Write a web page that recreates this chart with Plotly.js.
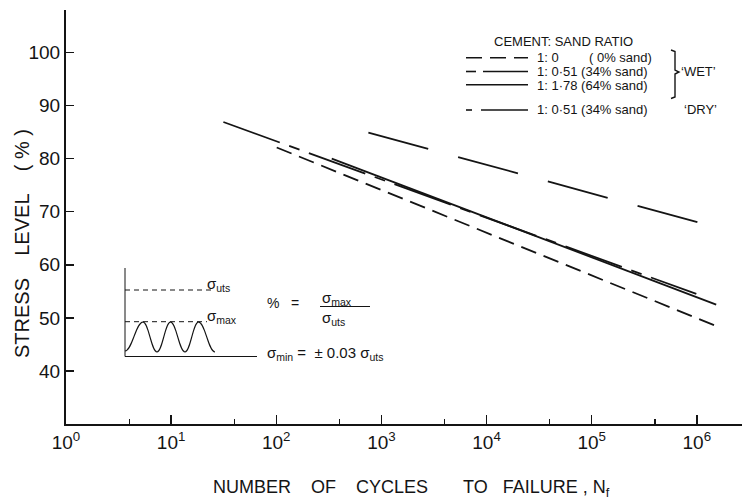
<!DOCTYPE html>
<html><head><meta charset="utf-8">
<script src="https://cdn.plot.ly/plotly-3.0.1.min.js"></script>
<style>html,body{margin:0;padding:0;background:#fff}#chart{width:742px;height:502px}</style>
</head><body><div id="chart"></div>
<script>
// ---- data ----
const nfWet0 = [101, 1.47e6];
const sWet0 = [82.1, 48.6];
const nfWet34 = [31.4, 0.99e6];
const sWet34 = [86.9, 54.5];
const nfWet64 = [337, 1.53e6];
const sWet64 = [80.0, 52.5];
const nfDry34 = [752, 1.02e6];
const sDry34 = [84.9, 68.0];

const xTickVals = [1, 10, 100, 1000, 1e4, 1e5, 1e6];
const xTickText = ['10<sup>0</sup>', '10<sup>1</sup>', '10<sup>2</sup>', '10<sup>3</sup>', '10<sup>4</sup>', '10<sup>5</sup>', '10<sup>6</sup>'];
const xMinorVals = [4, 40, 400, 4000, 4e4, 4e5];
const yTickVals = [40, 50, 60, 70, 80, 90, 100];

const legendTitle = 'CEMENT: SAND RATIO';
const legendRatios = ['1: 0', '1: 0·51 (34% sand)', '1: 1·78 (64% sand)', '1: 0·51 (34% sand)'];
const legendSand0 = '( 0% sand)';
const groupWet = '‘WET’';
const groupDry = '‘DRY’';

// ---- styling ----
const ink = '#141414';
const font = 'Liberation Sans, Arial, sans-serif';
const dashWet0 = '16px,8px';
const dashWet34 = '60px,10px,11px,10px';
const dashDry34 = '62px,31px';

// pixel -> paper helpers (plot area 66..742 x 10..424)
const L = 66, R = 742, T = 10, B = 424;
const px = x => (x - L) / (R - L);
const py = y => (B - y) / (B - T);
const P = (x, y) => px(x).toFixed(5) + ',' + py(y).toFixed(5);

function line(x0, y0, x1, y1, dash, w) {
  return {type: 'line', xref: 'paper', yref: 'paper', x0: px(x0), y0: py(y0), x1: px(x1), y1: py(y1),
    line: {color: ink, width: w || 1.6, dash: dash || 'solid'}};
}
function ann(text, x, y, size, xanchor, extra) {
  return Object.assign({text: text, xref: 'paper', yref: 'paper', x: px(x), y: py(y), showarrow: false,
    xanchor: xanchor || 'left', yanchor: 'middle', borderpad: 0,
    font: {family: font, size: size, color: ink}}, extra || {});
}

const traces = [
  {x: nfWet0, y: sWet0, mode: 'lines', line: {color: ink, width: 1.8, dash: dashWet0}},
  {x: nfWet34, y: sWet34, mode: 'lines', line: {color: ink, width: 1.8, dash: dashWet34}},
  {x: nfWet64, y: sWet64, mode: 'lines', line: {color: ink, width: 1.8}},
  {x: nfDry34, y: sDry34, mode: 'lines', line: {color: ink, width: 1.8, dash: dashDry34}}
];

// wave in inset (half-wave cubic segments)
const wavePts = [[125, 351], [143, 322], [157, 352], [170.5, 322], [185, 352], [198.5, 322], [215, 352]];
let wave = 'M ' + P(wavePts[0][0], wavePts[0][1]);
for (let i = 1; i < wavePts.length; i++) {
  const [xa, ya] = wavePts[i - 1], [xb, yb] = wavePts[i];
  const k = 0.4 * (xb - xa);
  wave += ' C ' + P(xa + k, ya) + ' ' + P(xb - k, yb) + ' ' + P(xb, yb);
}
const bracket = 'M ' + P(671, 50) + ' L ' + P(675, 51.5) + ' L ' + P(675, 70) + ' L ' + P(679, 72) +
  ' L ' + P(675, 74) + ' L ' + P(675, 97) + ' L ' + P(671, 98.5);

const shapes = [
  // legend samples
  line(466, 57.8, 528, 57.8, dashWet0, 1.6),
  line(466, 71.5, 476, 71.5, 'solid', 1.6),
  line(483, 71.5, 528, 71.5, 'solid', 1.6),
  line(466, 84.8, 528, 84.8, 'solid', 1.6),
  line(466, 110, 472, 110, 'solid', 1.6),
  line(481, 110, 528, 110, 'solid', 1.6),
  {type: 'path', xref: 'paper', yref: 'paper', path: bracket, line: {color: ink, width: 1.4}},
  // inset
  line(125, 268, 125, 356.5, 'solid', 1),
  line(125, 290, 212, 290, '5px,4px', 1),
  line(125, 321.7, 207, 321.7, '5px,4px', 1),
  line(125, 356.5, 257, 356.5, 'solid', 1.2),
  {type: 'path', xref: 'paper', yref: 'paper', path: wave, line: {color: ink, width: 1.1}},
  line(320, 306.5, 370, 306.5, 'solid', 1)
];

const sp = n => '&nbsp;'.repeat(n);
const annotations = [
  ann('STRESS' + sp(4) + 'LEVEL' + sp(4) + '(' + sp(1) + '%' + sp(1) + ')', 22, 244, 20, 'center', {textangle: -90}),
  ann('NUMBER' + sp(4) + 'OF' + sp(4) + 'CYCLES' + sp(7) + 'TO' + sp(3) + 'FAILURE' + sp(1) + ',' + sp(1) + 'N<sub>f</sub>', 411, 488, 18, 'center'),
  ann(legendTitle, 493, 41, 13),
  ann(legendRatios[0], 536, 57.6, 13),
  ann(legendSand0, 588, 57.6, 13),
  ann(legendRatios[1], 536, 71.8, 13),
  ann(legendRatios[2], 536, 85.3, 13),
  ann(legendRatios[3], 536, 110, 13),
  ann(groupWet, 680, 71.8, 13),
  ann(groupDry, 683, 110, 13),
  // inset texts
  ann('σ<sub>uts</sub>', 206, 284, 15),
  ann('σ<sub>max</sub>', 206, 316, 15),
  ann('%' + sp(3) + '=', 266, 303, 14),
  ann('σ<sub>max</sub>', 321, 298, 15),
  ann('σ<sub>uts</sub>', 321, 318, 15),
  ann('σ<sub>min</sub>' + sp(1) + '=' + sp(2) + '±' + sp(1) + '0.03' + sp(1) + 'σ<sub>uts</sub>', 266, 353, 15)
];

const layout = {
  width: 742, height: 502,
  margin: {l: L, r: 742 - R, t: T, b: 502 - B},
  paper_bgcolor: '#fff', plot_bgcolor: '#fff',
  showlegend: false,
  font: {family: font, color: ink},
  xaxis: {
    type: 'log', range: [0, 6.43], showgrid: false, zeroline: false,
    showline: true, linecolor: ink, linewidth: 2,
    ticks: 'inside', ticklen: 9, tickwidth: 1.5, tickcolor: ink,
    tickmode: 'array', tickvals: xTickVals, ticktext: xTickText,
    tickfont: {family: font, size: 19, color: ink},
    minor: {tickmode: 'array', tickvals: xMinorVals, ticks: 'inside', ticklen: 5, tickwidth: 1.3, tickcolor: ink, showgrid: false}
  },
  yaxis: {
    range: [30, 108], showgrid: false, zeroline: false,
    showline: true, linecolor: ink, linewidth: 2,
    ticks: 'inside', ticklen: 8, tickwidth: 1.5, tickcolor: ink,
    tickmode: 'array', tickvals: yTickVals,
    tickfont: {family: font, size: 19, color: ink}
  },
  shapes: shapes,
  annotations: annotations
};

Plotly.newPlot('chart', traces, layout, {staticPlot: true, displayModeBar: false});
</script>
</body></html>
